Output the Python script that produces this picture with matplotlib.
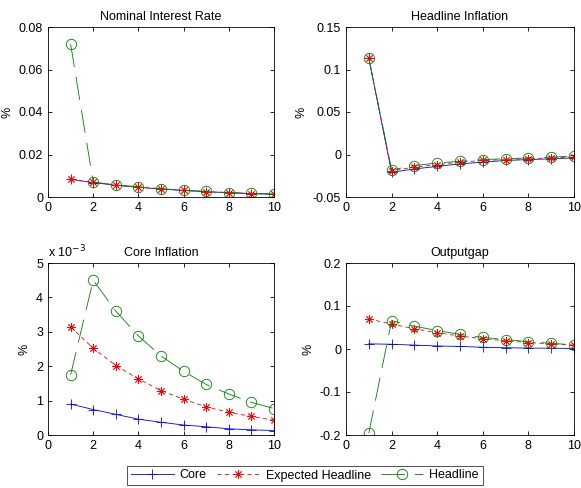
import matplotlib
matplotlib.use("Agg")
import matplotlib.pyplot as plt
import numpy as np

plt.rcParams['font.family'] = ['Liberation Sans', 'DejaVu Sans']

periods = list(range(1, 11))

# Nominal Interest Rate
nir_core = [0.0083, 0.0068, 0.0055, 0.0046, 0.0037, 0.0031, 0.0025, 0.0020, 0.0016, 0.0013]
nir_exp = [0.0083, 0.0069, 0.0056, 0.0047, 0.0038, 0.0031, 0.0025, 0.0020, 0.0016, 0.0013]
nir_head = [0.072, 0.0070, 0.0057, 0.0048, 0.0039, 0.0032, 0.0026, 0.0021, 0.0017, 0.0014]

# Headline Inflation
hi_core = [0.113, -0.021, -0.017, -0.014, -0.011, -0.009, -0.007, -0.006, -0.005, -0.004]
hi_exp = [0.114, -0.019, -0.015, -0.012, -0.009, -0.007, -0.006, -0.005, -0.004, -0.003]
hi_head = [0.113, -0.018, -0.013, -0.010, -0.008, -0.006, -0.005, -0.004, -0.003, -0.002]

# Core Inflation (x 1e-3)
ci_core = [0.90e-3, 0.74e-3, 0.60e-3, 0.46e-3, 0.37e-3, 0.29e-3, 0.24e-3, 0.18e-3, 0.15e-3, 0.13e-3]
ci_exp = [3.15e-3, 2.52e-3, 2.02e-3, 1.63e-3, 1.29e-3, 1.04e-3, 0.82e-3, 0.66e-3, 0.54e-3, 0.43e-3]
ci_head = [1.75e-3, 4.50e-3, 3.60e-3, 2.88e-3, 2.30e-3, 1.85e-3, 1.47e-3, 1.19e-3, 0.95e-3, 0.77e-3]

# Outputgap
og_core = [0.012, 0.011, 0.009, 0.007, 0.006, 0.004, 0.003, 0.002, 0.002, 0.001]
og_exp = [0.070, 0.058, 0.047, 0.038, 0.030, 0.024, 0.019, 0.015, 0.012, 0.009]
og_head = [-0.196, 0.066, 0.053, 0.043, 0.034, 0.027, 0.022, 0.017, 0.013, 0.010]

series_labels = ['Core', 'Expected Headline', 'Headline']

panels = [
    ("Nominal Interest Rate", nir_core, nir_exp, nir_head, (0, 0.08), [0, 0.02, 0.04, 0.06, 0.08], ['0', '0.02', '0.04', '0.06', '0.08']),
    ("Headline Inflation", hi_core, hi_exp, hi_head, (-0.05, 0.15), [-0.05, 0, 0.05, 0.1, 0.15], ['-0.05', '0', '0.05', '0.1', '0.15']),
    ("Core Inflation", ci_core, ci_exp, ci_head, (0, 0.005), [0, 0.001, 0.002, 0.003, 0.004, 0.005], ['0', '1', '2', '3', '4', '5']),
    ("Outputgap", og_core, og_exp, og_head, (-0.2, 0.2), [-0.2, -0.1, 0, 0.1, 0.2], ['-0.2', '-0.1', '0', '0.1', '0.2']),
]

W, H = 581, 488
fig = plt.figure(figsize=(W / 100, H / 100), dpi=100)

# axes boxes in pixels: (left, top, right, bottom)
boxes = [(48, 27, 274, 197), (346, 27, 574, 197), (48, 263, 274, 435), (346, 263, 574, 435)]

fs = 9
lw = 0.6
handles = None
for (title, c, e, h, ylim, yt, ytl), (l, t, r, b) in zip(panels, boxes):
    ax = fig.add_axes([l / W, 1 - b / H, (r - l) / W, (b - t) / H])
    l1, = ax.plot(periods, c, color='blue', marker='+', markersize=7, markeredgewidth=lw, lw=lw,
                  label=series_labels[0])
    l2, = ax.plot(periods, e, color='red', marker=(8, 2, 0), markersize=6, markeredgewidth=lw, lw=lw,
                  dashes=(5, 4), label=series_labels[1])
    l3, = ax.plot(periods, h, color='green', marker='o', markersize=7.5, markerfacecolor='none',
                  markeredgewidth=lw, lw=lw, dashes=(28, 12), label=series_labels[2])
    handles = [l1, l2, l3]
    ax.set_xlim(0, 10)
    ax.set_ylim(*ylim)
    ax.set_xticks([0, 2, 4, 6, 8, 10])
    ax.set_yticks(yt)
    ax.set_yticklabels(ytl)
    ax.tick_params(direction='in', labelsize=fs, top=True, right=True, length=3, width=0.6)
    for s in ax.spines.values():
        s.set_linewidth(0.6)
    ax.set_title(title, fontsize=fs, pad=5)
    ax.set_ylabel('%', fontsize=fs)
    if title == "Core Inflation":
        ax.text(0.0, 1.015, r'x 10$^{-3}$', transform=ax.transAxes, fontsize=fs, ha='left', va='bottom')

leg = fig.legend(handles, series_labels, loc='center', bbox_to_anchor=(305 / W, 1 - 475.5 / H),
                 ncol=3, fontsize=fs, frameon=True, fancybox=False, edgecolor='black',
                 handlelength=3.4, columnspacing=0.8, handletextpad=0.5, borderpad=0.3)
leg.get_frame().set_linewidth(0.6)

fig.savefig('out.png', dpi=100)
